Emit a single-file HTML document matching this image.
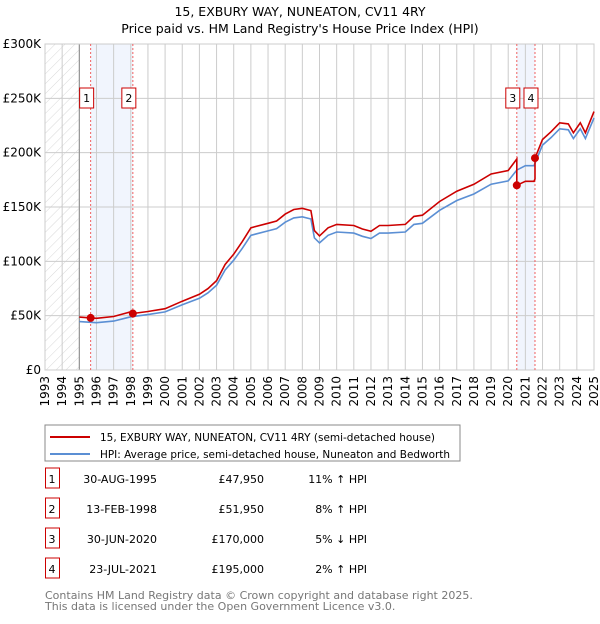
<!DOCTYPE html>
<html><head><meta charset="utf-8"><style>
body{margin:0;background:#fff;font-family:"DejaVu Sans","Liberation Sans",sans-serif;}
svg text{font-family:"DejaVu Sans","Liberation Sans",sans-serif;}
</style></head><body>
<svg id="c" width="600" height="620" xmlns="http://www.w3.org/2000/svg">
<text x="300" y="16" text-anchor="middle" font-size="12.5">15, EXBURY WAY, NUNEATON, CV11 4RY</text>
<text x="300" y="33" text-anchor="middle" font-size="12.5">Price paid vs. HM Land Registry's House Price Index (HPI)</text>
<defs><pattern id="hatch" width="7" height="7" patternUnits="userSpaceOnUse" patternTransform="rotate(45)"><line x1="0" y1="0" x2="0" y2="7" stroke="#d8d8d8" stroke-width="1"/></pattern></defs>
<g id="plot"></g>
<rect x="45" y="425" width="415" height="36" fill="#fff" stroke="#888"/>
<line x1="50" y1="437" x2="90" y2="437" stroke="#cc0000" stroke-width="2"/>
<text x="100" y="441" font-size="11" textLength="335" lengthAdjust="spacingAndGlyphs">15, EXBURY WAY, NUNEATON, CV11 4RY (semi-detached house)</text>
<line x1="50" y1="454" x2="90" y2="454" stroke="#5b8fd4" stroke-width="2"/>
<text x="100" y="458" font-size="11" textLength="350" lengthAdjust="spacingAndGlyphs">HPI: Average price, semi-detached house, Nuneaton and Bedworth</text>
<g id="table" font-size="11"></g>
<text x="45" y="599" font-size="11" fill="#777">Contains HM Land Registry data © Crown copyright and database right 2025.</text>
<text x="45" y="610" font-size="11" fill="#777">This data is licensed under the Open Government Licence v3.0.</text>
</svg>
<script>
const hpiYears=[1995,1996,1997,1998,1999,2000,2001,2002,2002.5,2003,2003.5,2004,2004.5,2005,2006,2006.5,2007,2007.5,2008,2008.5,2008.7,2009,2009.5,2010,2011,2011.5,2012,2012.5,2013,2014,2014.5,2015,2016,2017,2018,2019,2020,2020.5,2021,2021.5,2022,2022.5,2023,2023.5,2023.8,2024.2,2024.5,2025];
const hpiValues=[44.5,43.5,45,49,51,53.5,60,66,71,78,92,101,112,124,128,130,136,140,141,139,121.6,117,124,127,126,123,121,126,126,127,134,135,147,156,162,171,174,184,188,188,207,214,222,221,213,222,213,232];
const saleYears=[1995.66,1998.12,2020.5,2021.56];
const salePrices=[47.95,51.95,170,195];
const saleDates=["30-AUG-1995","13-FEB-1998","30-JUN-2020","23-JUL-2021"];
const salePriceLabels=["£47,950","£51,950","£170,000","£195,000"];
const saleHpiLabels=["11% ↑ HPI","8% ↑ HPI","5% ↓ HPI","2% ↑ HPI"];
const yTicks=[0,50,100,150,200,250,300];
const yTickLabels=["£0","£50K","£100K","£150K","£200K","£250K","£300K"];
const xStart=1993,xEnd=2025;
const L=45,R=594,T=44,B=370;
const X=t=>L+(t-xStart)/(xEnd-xStart)*(R-L);
const Y=v=>B-v/300*(B-T);
const NS="http://www.w3.org/2000/svg";
const plot=document.getElementById('plot');
function mk(tag,attrs,parent){const e=document.createElementNS(NS,tag);for(const k in attrs)e.setAttribute(k,attrs[k]);(parent||plot).appendChild(e);return e;}
function hpiAt(t){for(let i=0;i<hpiYears.length-1;i++){if(t<=hpiYears[i+1]){const f=(t-hpiYears[i])/(hpiYears[i+1]-hpiYears[i]);return hpiValues[i]+f*(hpiValues[i+1]-hpiValues[i]);}}return hpiValues[hpiValues.length-1];}
let e;
e=mk('rect',{x:L,y:T,width:X(1995)-L,height:B-T,fill:'url(#hatch)'});


for(let p=0;p<saleYears.length;p+=2){e=mk('rect',{x:X(saleYears[p]),y:T,width:X(saleYears[p+1])-X(saleYears[p]),height:B-T,fill:'#eef3fc',opacity:0.8});

}
for(let yr=xStart;yr<=xEnd;yr++){e=mk('line',{x1:X(yr),x2:X(yr),y1:T,y2:B,stroke:'#ccc','stroke-width':1});


const tx=mk('text',{x:0,y:0,'font-size':12,'text-anchor':'end',transform:`translate(${X(yr)+4},${B+6}) rotate(-90)`});tx.textContent=yr;

}
yTicks.forEach((v,i)=>{e=mk('line',{x1:L,x2:R,y1:Y(v),y2:Y(v),stroke:'#ccc','stroke-width':1});


const tx=mk('text',{x:L-4,y:Y(v)+4,'font-size':12,'text-anchor':'end'});tx.textContent=yTickLabels[i];

});
e=mk('line',{x1:X(1995),x2:X(1995),y1:T,y2:B,stroke:'#888'});


e=mk('rect',{x:L,y:T,width:R-L,height:B-T,fill:'none',stroke:'#ccc'});


saleYears.forEach((t,i)=>{e=mk('line',{x1:X(t),x2:X(t),y1:T,y2:B,stroke:'#f06060','stroke-dasharray':'2,2'});

});
let d=hpiYears.map((t,i)=>(i?'L':'M')+X(t).toFixed(1)+','+Y(hpiValues[i]).toFixed(1)).join('');
e=mk('path',{d:d,fill:'none',stroke:'#5b8fd4','stroke-width':1.6});


function factor(t){let k=0;for(let i=0;i<saleYears.length;i++)if(t>=saleYears[i])k=i;return salePrices[k]/hpiAt(saleYears[k]);}
let pts=[];const allT=[...hpiYears,...saleYears].sort((a,b)=>a-b);
allT.forEach(t=>{saleYears.forEach((s,k)=>{if(Math.abs(t-s)<1e-9&&k>0){const f0=salePrices[k-1]/hpiAt(saleYears[k-1]);pts.push([t,hpiAt(t)*f0]);}});pts.push([t,hpiAt(t)*factor(t)]);});
d=pts.map((p,i)=>(i?'L':'M')+X(p[0]).toFixed(1)+','+Y(p[1]).toFixed(1)).join('');
e=mk('path',{d:d,fill:'none',stroke:'#cc0000','stroke-width':1.6});


saleYears.forEach((t,i)=>{e=mk('circle',{cx:X(t),cy:Y(salePrices[i]),r:4,fill:'#cc0000'});


const bx=X(t)-11;e=mk('rect',{x:bx,y:88,width:14,height:20,fill:'#fff',stroke:'#cc0000'});


const tx=mk('text',{x:bx+7,y:102,'font-size':11,'text-anchor':'middle'});tx.textContent=i+1;

});
const tb=document.getElementById('table');
saleDates.forEach((dt,i)=>{const y=483+i*30;
e=mk('rect',{x:45.5,y:y-15,width:14,height:20,fill:'#fff',stroke:'#cc0000'},tb);


const cells=[[52,'middle',i+1],[157,'end',dt],[264,'end',salePriceLabels[i]],[367,'end',saleHpiLabels[i]]];
cells.forEach((c,j)=>{const tx=mk('text',{x:c[0],y:y,'text-anchor':c[1]},tb);tx.textContent=c[2];

});});
</script>
</body></html>
